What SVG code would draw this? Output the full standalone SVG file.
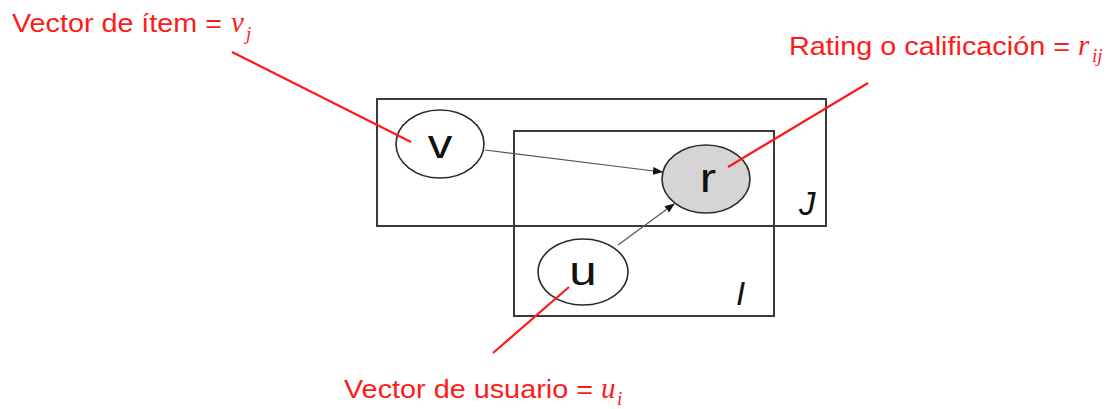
<svg xmlns="http://www.w3.org/2000/svg" width="1116" height="409" viewBox="0 0 1116 409">
<defs>
<style>
.plate{fill:none;stroke:#3a3a3a;stroke-width:2}
.node{fill:#fff;stroke:#2a2a2a;stroke-width:1.6}
.obs{fill:#d6d4d5;stroke:#2a2a2a;stroke-width:1.6}
.nl{font-family:"Liberation Sans",Arial,sans-serif;font-size:41px;fill:#111;text-anchor:middle}
.pl{font-family:"Liberation Sans",Arial,sans-serif;font-style:italic;font-size:33px;fill:#111}
.edge{stroke:#555;stroke-width:1.2;fill:none;marker-end:url(#ah)}
.ann{stroke:#ff1a1a;stroke-width:2.2;fill:none}
.lab{font-family:"Liberation Sans",Arial,sans-serif;font-size:25px;fill:#ff1a1a}
.math{font-family:"Liberation Serif","DejaVu Serif",serif;font-style:italic;fill:#ff1a1a}
</style>
<marker id="ah" markerWidth="10" markerHeight="8" refX="9" refY="4" orient="auto" markerUnits="userSpaceOnUse">
<path d="M0,0 L10,4 L0,8 z" fill="#111"/>
</marker>
</defs>
<rect width="1116" height="409" fill="#fff"/>
<g id="plate-J">
<rect class="plate" x="377" y="99" width="449" height="127"/>
<text class="pl" x="799" y="215">J</text>
</g>
<g id="plate-I">
<rect class="plate" x="514" y="131" width="260" height="185"/>
<text class="pl" x="736" y="305">I</text>
</g>
<g id="connectors">
<line class="edge" x1="485" y1="150" x2="662" y2="172"/>
<line class="edge" x1="618" y1="245" x2="674" y2="204"/>
</g>
<g id="node-v">
<ellipse class="node" cx="440" cy="144" rx="44" ry="34"/>
<text class="nl" transform="translate(440,158) scale(1.2,1)">v</text>
</g>
<g id="node-r">
<ellipse class="obs" cx="706" cy="179" rx="44" ry="34"/>
<text class="nl" transform="translate(708,192) scale(1.2,1)">r</text>
</g>
<g id="node-u">
<ellipse class="node" cx="583" cy="272" rx="45" ry="33"/>
<text class="nl" transform="translate(583,285) scale(1.2,1)">u</text>
</g>
<g id="annotations">
<line class="ann" x1="232" y1="52" x2="411" y2="142"/>
<line class="ann" x1="868" y1="83" x2="728" y2="167"/>
<line class="ann" x1="569" y1="287" x2="493" y2="353"/>
</g>
<g id="label-item">
<text class="lab" x="12" y="32" textLength="210" lengthAdjust="spacingAndGlyphs">Vector de ítem =</text>
<text class="math" x="231" y="32" font-size="29">v</text>
<text class="math" x="246" y="40" font-size="19">j</text>
</g>
<g id="label-rating">
<text class="lab" x="789" y="55" textLength="281" lengthAdjust="spacingAndGlyphs">Rating o calificación =</text>
<text class="math" x="1078" y="55" font-size="29">r</text>
<text class="math" x="1092" y="62" font-size="19">ij</text>
</g>
<g id="label-user">
<text class="lab" x="344" y="398" textLength="249" lengthAdjust="spacingAndGlyphs">Vector de usuario =</text>
<text class="math" x="601" y="398" font-size="29">u</text>
<text class="math" x="617" y="405" font-size="19">i</text>
</g>
</svg>
